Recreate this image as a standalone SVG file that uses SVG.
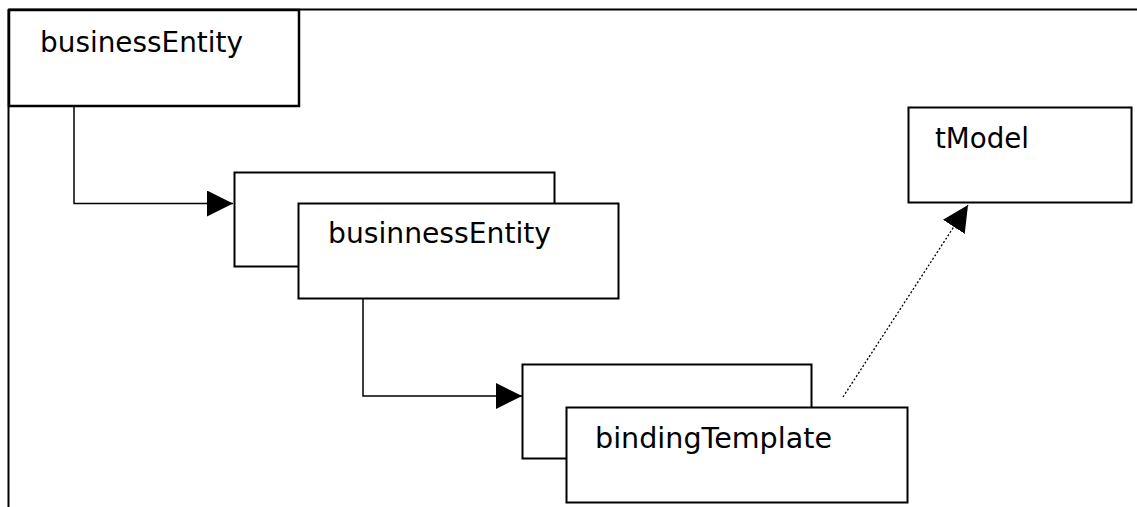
<svg xmlns="http://www.w3.org/2000/svg" width="1137" height="507" viewBox="0 0 1137 507">
<style>
.box{fill:#fff;stroke:#000;stroke-width:2}
.lbl{font-family:"DejaVu Sans","Liberation Sans",sans-serif;font-size:28px;fill:#000}
.conn{fill:none;stroke:#000;stroke-width:1.5}
.dot{fill:none;stroke:#000;stroke-width:1.3;stroke-dasharray:2 2}
</style>
<defs>
<marker id="arr" markerWidth="26" markerHeight="26" viewBox="0 0 26 26" refX="26" refY="13" orient="auto" markerUnits="userSpaceOnUse">
<path d="M0,0 L26,13 L0,26 Z" fill="#000"/>
</marker>
</defs>
<g id="frame">
<line x1="8.5" y1="9.5" x2="1137" y2="9.5" stroke="#000" stroke-width="2"/>
<line x1="8.5" y1="9.5" x2="8.5" y2="507" stroke="#000" stroke-width="2"/>
</g>
<g id="node-businessEntity">
<rect class="box" x="9" y="10" width="290" height="96" style="stroke-width:2.5"/>
<text class="lbl" x="40" y="52" textLength="203" lengthAdjust="spacingAndGlyphs">businessEntity</text>
</g>
<g id="node-businessEntity-back">
<rect class="box" x="234.5" y="172.5" width="320" height="94"/>
</g>
<g id="node-businnessEntity">
<rect class="box" x="298.5" y="203.5" width="320" height="95"/>
<text class="lbl" x="328" y="243" textLength="223" lengthAdjust="spacingAndGlyphs">businnessEntity</text>
</g>
<g id="node-bindingTemplate-back">
<rect class="box" x="522.5" y="364.5" width="289" height="94"/>
</g>
<g id="node-bindingTemplate">
<rect class="box" x="566.5" y="407.5" width="341" height="95"/>
<text class="lbl" x="595" y="448" textLength="237" lengthAdjust="spacingAndGlyphs">bindingTemplate</text>
</g>
<g id="node-tModel">
<rect class="box" x="908.5" y="107.5" width="223" height="95"/>
<text class="lbl" x="935" y="148" textLength="94" lengthAdjust="spacingAndGlyphs">tModel</text>
</g>
<g id="connectors">
<polyline class="conn" points="74,107 74,203.5 233,203.5" marker-end="url(#arr)"/>
<polyline class="conn" points="363,299 363,396 522,396" marker-end="url(#arr)"/>
<line class="dot" x1="843" y1="397" x2="968" y2="205" marker-end="url(#arr)"/>
</g>
</svg>
